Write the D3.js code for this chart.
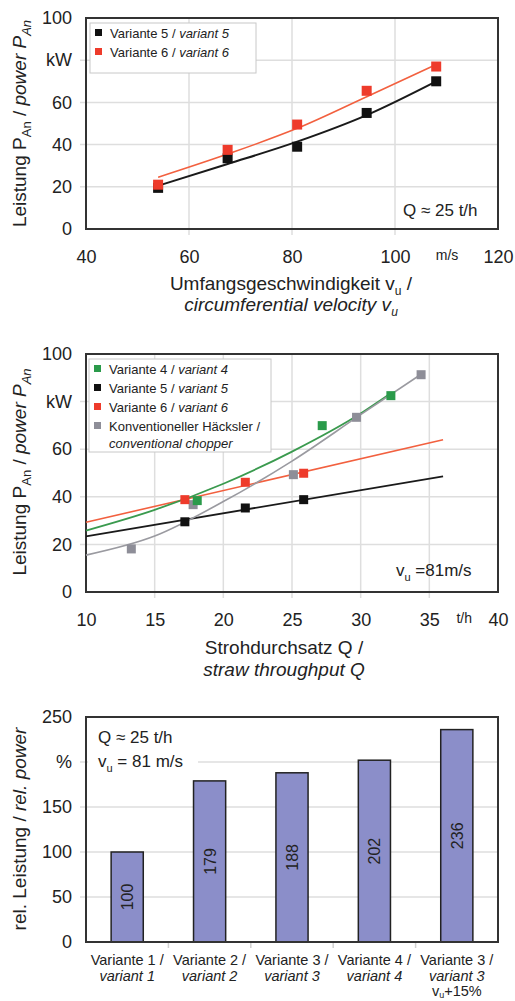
<!DOCTYPE html>
<html>
<head>
<meta charset="utf-8">
<script src="https://cdn.jsdelivr.net/npm/d3@7"></script>
<style>
  body { margin: 0; background: #fff; }
  text { font-family: "Liberation Sans", Arial, Helvetica, sans-serif; fill: #222; }
</style>
</head>
<body>
<div id="holder"></div>
<script>
// --- chart 1: power over circumferential speed (Q ~ 25 t/h)
const speedVu = [54, 67.5, 81, 94.5, 108];
const speedV5 = [19.5, 33.5, 39, 55, 70];
const speedV6 = [21, 37.5, 49.5, 65.5, 77];
const speedFitV5 = [20.5, 30.8, 41.4, 54, 70];
const speedFitV6 = [24.5, 35.5, 47.7, 62.7, 78];
const speedXTicks = [40, 60, 80, 100, 110, 120];
const speedXGrid = [60, 80, 100];
const powerTicks = [0, 20, 40, 60, 80, 100];
const powerGrid = [20, 40, 60, 80];

// --- chart 2: power over straw throughput (vu = 81 m/s)
const thruV4Q = [18.1, 27.2, 32.2];
const thruV4P = [38.4, 69.9, 82.5];
const thruV5Q = [17.2, 21.6, 25.85];
const thruV5P = [29.5, 35.3, 38.8];
const thruV6Q = [17.2, 21.6, 25.85];
const thruV6P = [38.8, 46.1, 49.9];
const thruConvQ = [13.3, 17.8, 25.1, 29.7, 34.4];
const thruConvP = [18.1, 36.7, 49.3, 73.4, 91.3];
const fitV4Q = [10, 15, 20, 25, 30, 32.2];
const fitV4P = [25.8, 34.5, 45.5, 59, 75, 83.5];
const fitV5Q = [10, 36];
const fitV5P = [23.4, 48.6];
const fitV6Q = [10, 36];
const fitV6P = [29.3, 64];
const fitConvQ = [10, 15, 20, 25, 30, 34.4];
const fitConvP = [15.5, 23.5, 38, 55, 74.5, 91.5];
const thruXTicks = [10, 15, 20, 25, 30, 35, 37.5, 40];
const thruXGrid = [15, 20, 25, 30, 35];

// --- chart 3: relative power
const relCategories = ["V1", "V2", "V3", "V4", "V3+"];
const relLabels = [
    ["Variante 1 /", "variant 1"],
    ["Variante 2 /", "variant 2"],
    ["Variante 3 /", "variant 3"],
    ["Variante 4 /", "variant 4"],
    ["Variante 3 /", "variant 3", "vu+15%"]
];
const relValues = [100, 179, 188, 202, 236];
const relTicks = [0, 50, 100, 150, 200, 250];
const relGrid = [50, 100, 150, 200];

const colors = { v4: "#2a9a4a", v5: "#111", v6: "#ee3b2b", conv: "#8e8e98" };
const lineColors = { v4: "#3a9a4e", v5: "#1a1a1a", v6: "#f2603f", conv: "#9a9aa0" };

const left = 86, right = 498;
const svg = d3.select("#holder").append("svg")
    .attr("width", 515)
    .attr("height", 1001);

// text with subscripts / italics, parts = [[text, italic, sub]]
function rich(sel, parts, subSize, shift) {
    const s = shift || 5;
    let shifted = false;
    parts.forEach(([t, italic, sub]) => {
        const ts = sel.append("tspan").text(t);
        if (italic) ts.style("font-style", "italic");
        if (sub && !shifted) { ts.attr("dy", s).style("font-size", subSize + "px"); shifted = true; }
        else if (!sub && shifted) { ts.attr("dy", -s); shifted = false; }
        else if (sub) ts.style("font-size", subSize + "px");
    });
    return sel;
}

function yAxis(g, y, ticks, fmt) {
    g.append("g")
        .attr("transform", `translate(${left},0)`)
        .call(d3.axisLeft(y).tickValues(ticks).tickFormat(fmt).tickSize(0).tickPadding(14))
        .call(a => a.select(".domain").remove())
        .selectAll("text")
        .style("font-size", "18px");
}

function hGrid(g, y, values) {
    g.append("g").selectAll("line").data(values).join("line")
        .attr("x1", left - 6).attr("x2", right)
        .attr("y1", d => y(d)).attr("y2", d => y(d))
        .attr("stroke", "#dedede").attr("stroke-width", 1.5);
}

function frame(g, y) {
    g.append("rect")
        .attr("x", left).attr("y", y.range()[1])
        .attr("width", right - left).attr("height", y.range()[0] - y.range()[1])
        .attr("fill", "none").attr("stroke", "#333").attr("stroke-width", 2);
}

function yTitle(g, cy, parts) {
    rich(g.append("text")
        .attr("transform", `translate(26,${cy}) rotate(-90)`)
        .attr("text-anchor", "middle")
        .style("font-size", "19px"), parts, 13);
}

function squares(g, x, y, xs, ys, color, size) {
    g.append("g").selectAll("rect").data(xs).join("rect")
        .attr("x", (d) => x(d) - size / 2)
        .attr("y", (d, i) => y(ys[i]) - size / 2)
        .attr("width", size).attr("height", size)
        .attr("fill", color);
}

function fit(g, x, y, xs, ys, color, w) {
    const line = d3.line().x(d => x(d[0])).y(d => y(d[1])).curve(d3.curveMonotoneX);
    g.append("path")
        .datum(xs.map((d, i) => [d, ys[i]]))
        .attr("d", line)
        .attr("fill", "none").attr("stroke", color).attr("stroke-width", w);
}

function legend(g, x0, y0, w, h, items) {
    g.append("rect").attr("x", x0).attr("y", y0).attr("width", w).attr("height", h)
        .attr("fill", "#fff").attr("stroke", "#c8c8c8").attr("stroke-width", 1);
    items.forEach((it, i) => {
        const by = y0 + 15 + i * 19;
        g.append("rect").attr("x", x0 + 5).attr("y", by - 9).attr("width", 7).attr("height", 7)
            .attr("fill", it.color);
        rich(g.append("text").attr("x", x0 + 20).attr("y", by).style("font-size", "13px"),
            it.parts, 10);
        if (it.line2) {
            g.append("text").attr("x", x0 + 20).attr("y", by + 17)
                .style("font-size", "13px").style("font-style", "italic").text(it.line2);
        }
    });
}

// ================= chart 1 =================
{
    const g = svg.append("g");
    const x = d3.scaleLinear().domain([40, 120]).range([left, right]);
    const y = d3.scaleLinear().domain([0, 100]).range([229, 18]);

    hGrid(g, y, powerGrid);
    g.append("g").selectAll("line").data(speedXGrid).join("line")
        .attr("x1", d => x(d)).attr("x2", d => x(d))
        .attr("y1", y(100)).attr("y2", y(0) + 6)
        .attr("stroke", "#dedede").attr("stroke-width", 1.5);
    frame(g, y);

    yAxis(g, y, powerTicks, d => d === 80 ? "kW" : d);
    g.append("g")
        .attr("transform", `translate(0,${y(0)})`)
        .call(d3.axisBottom(x).tickValues(speedXTicks).tickFormat(d => d === 110 ? "m/s" : d)
            .tickSize(0).tickPadding(21))
        .call(a => a.select(".domain").remove())
        .selectAll("text")
        .style("font-size", d => d === 110 ? "14px" : "18px");

    fit(g, x, y, speedVu, speedFitV5, lineColors.v5, 2);
    fit(g, x, y, speedVu, speedFitV6, lineColors.v6, 1.6);
    squares(g, x, y, speedVu, speedV5, colors.v5, 10);
    squares(g, x, y, speedVu, speedV6, colors.v6, 10);

    legend(g, 90, 23, 166, 50, [
        { color: colors.v5, parts: [["Variante 5 / "], ["variant 5", true]] },
        { color: colors.v6, parts: [["Variante 6 / "], ["variant 6", true]] }
    ]);

    g.append("text").attr("x", 403).attr("y", 216).style("font-size", "17px").text("Q ≈ 25 t/h");

    yTitle(g, 123.5, [["Leistung P"], ["An", false, true], [" / "], ["power P", true], ["An", true, true]]);
    rich(g.append("text").attr("x", 291).attr("y", 290).attr("text-anchor", "middle")
        .style("font-size", "19px"), [["Umfangsgeschwindigkeit v"], ["u", false, true], [" /"]], 12);
    rich(g.append("text").attr("x", 291).attr("y", 311).attr("text-anchor", "middle")
        .style("font-size", "19px"), [["circumferential velocity v", true], ["u", true, true]], 12);
}

// ================= chart 2 =================
{
    const g = svg.append("g");
    const x = d3.scaleLinear().domain([10, 40]).range([left, right]);
    const y = d3.scaleLinear().domain([0, 100]).range([592, 354]);

    hGrid(g, y, powerGrid);
    g.append("g").selectAll("line").data(thruXGrid).join("line")
        .attr("x1", d => x(d)).attr("x2", d => x(d))
        .attr("y1", y(100)).attr("y2", y(0) + 6)
        .attr("stroke", "#dedede").attr("stroke-width", 1.5);
    frame(g, y);

    yAxis(g, y, powerTicks, d => d === 80 ? "kW" : d);
    g.append("g")
        .attr("transform", `translate(0,${y(0)})`)
        .call(d3.axisBottom(x).tickValues(thruXTicks).tickFormat(d => d === 37.5 ? "t/h" : d)
            .tickSize(0).tickPadding(21))
        .call(a => a.select(".domain").remove())
        .selectAll("text")
        .style("font-size", d => d === 37.5 ? "14px" : "18px");

    legend(g, 89, 359, 182, 93, [
        { color: colors.v4, parts: [["Variante 4 / "], ["variant 4", true]] },
        { color: colors.v5, parts: [["Variante 5 / "], ["variant 5", true]] },
        { color: colors.v6, parts: [["Variante 6 / "], ["variant 6", true]] },
        { color: colors.conv, parts: [["Konventioneller Häcksler /"]], line2: "conventional chopper" }
    ]);

    fit(g, x, y, fitV5Q, fitV5P, lineColors.v5, 1.8);
    fit(g, x, y, fitV6Q, fitV6P, lineColors.v6, 1.6);
    fit(g, x, y, fitV4Q, fitV4P, lineColors.v4, 1.8);
    fit(g, x, y, fitConvQ, fitConvP, lineColors.conv, 1.6);
    squares(g, x, y, thruConvQ, thruConvP, colors.conv, 9);
    squares(g, x, y, thruV4Q, thruV4P, colors.v4, 9);
    squares(g, x, y, thruV5Q, thruV5P, colors.v5, 9);
    squares(g, x, y, thruV6Q, thruV6P, colors.v6, 9);

    rich(g.append("text").attr("x", 396).attr("y", 576).style("font-size", "17px"),
        [["v"], ["u", false, true], [" =81m/s"]], 11);

    yTitle(g, 472, [["Leistung P"], ["An", false, true], [" / "], ["power P", true], ["An", true, true]]);
    g.append("text").attr("x", 284).attr("y", 654).attr("text-anchor", "middle")
        .style("font-size", "19px").text("Strohdurchsatz Q /");
    g.append("text").attr("x", 284).attr("y", 676).attr("text-anchor", "middle")
        .style("font-size", "19px").style("font-style", "italic").text("straw throughput Q");
}

// ================= chart 3 =================
{
    const g = svg.append("g");
    const x = d3.scaleBand().domain(relCategories).range([left, right]);
    const y = d3.scaleLinear().domain([0, 250]).range([942, 717]);
    const bw = x.bandwidth() * 0.39;

    hGrid(g, y, relGrid);
    g.append("g").selectAll("line").data(relCategories.slice(1)).join("line")
        .attr("x1", d => x(d)).attr("x2", d => x(d))
        .attr("y1", y(0)).attr("y2", y(0) + 6)
        .attr("stroke", "#d0d0d0").attr("stroke-width", 1.5);

    // white box behind the notes
    g.append("rect").attr("x", 88).attr("y", 720).attr("width", 110).attr("height", 55).attr("fill", "#fff");
    g.append("text").attr("x", 98).attr("y", 743).style("font-size", "17px").text("Q ≈ 25 t/h");
    rich(g.append("text").attr("x", 98).attr("y", 767).style("font-size", "17px"),
        [["v"], ["u", false, true], [" = 81 m/s"]], 11);

    g.append("g").selectAll("rect").data(relValues).join("rect")
        .attr("x", (d, i) => x(relCategories[i]) + (x.bandwidth() - bw) / 2)
        .attr("y", d => y(d))
        .attr("width", bw)
        .attr("height", d => y(0) - y(d))
        .attr("fill", "#8b8ec9")
        .attr("stroke", "#222").attr("stroke-width", 1.5);

    g.append("g").selectAll("text").data(relValues).join("text")
        .attr("transform", (d, i) =>
            `translate(${x(relCategories[i]) + x.bandwidth() / 2 + 6},${(y(d) + y(0)) / 2}) rotate(-90)`)
        .attr("text-anchor", "middle")
        .style("font-size", "16px")
        .text(d => d);

    frame(g, y);
    yAxis(g, y, relTicks, d => d === 200 ? "%" : d);

    relLabels.forEach((lines, i) => {
        const cx = x(relCategories[i]) + x.bandwidth() / 2;
        lines.forEach((t, j) => {
            const txt = g.append("text").attr("x", cx).attr("y", 965 + j * 15.5)
                .attr("text-anchor", "middle").style("font-size", "14.5px");
            if (j === 1) txt.style("font-style", "italic").text(t);
            else if (t === "vu+15%") rich(txt, [["v"], ["u", false, true], ["+15%"]], 9, 2);
            else txt.text(t);
        });
    });

    yTitle(g, 829, [["rel. Leistung / "], ["rel. power", true]]);
}
</script>
</body>
</html>
